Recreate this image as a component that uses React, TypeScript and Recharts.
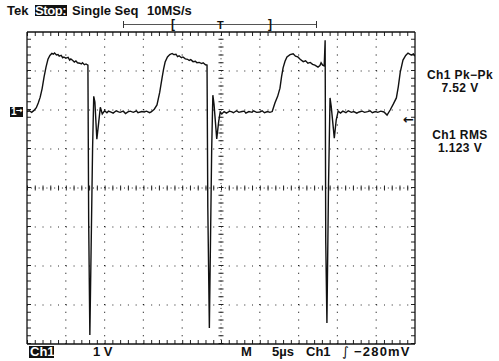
import React from "react";
import { LineChart, Line, XAxis, YAxis, ReferenceLine } from "recharts";

// Ch1 trace, time in µs (5 µs/div) and volts (1 V/div)
const pulse1: [number, number][] = [
  [0, -0.04], [0.3, -0.02], [0.6, -0.06], [0.9, -0.01], [1.2, 0.06], [1.45, 0.18],
  [1.7, 0.33], [1.95, 0.55], [2.2, 0.85], [2.45, 1.1], [2.7, 1.3], [2.95, 1.4],
  [3.2, 1.45], [3.4, 1.43], [3.55, 1.46], [3.8, 1.41], [4.0, 1.42], [4.15, 1.38],
  [4.4, 1.4], [4.6, 1.34], [4.75, 1.36], [5.0, 1.33], [5.3, 1.35], [5.5, 1.28],
  [5.65, 1.31], [5.9, 1.27], [6.1, 1.23], [6.3, 1.26], [6.5, 1.21], [6.8, 1.2],
  [7.0, 1.18], [7.15, 1.21], [7.4, 1.16], [7.6, 1.18], [7.85, 1.15],
];
const spike1: [number, number][] = [
  [7.95, -2.9], [8.1, -5.77], [8.45, -1.0], [8.6, 0.35], [8.75, 0.2], [9.0, -0.75],
  [9.25, -0.3], [9.45, 0.07], [9.7, -0.1],
];
const base1: [number, number][] = [
  [10.0, -0.02], [10.3, -0.07], [10.5, -0.03], [10.9, -0.06], [11.1, -0.08], [11.5, -0.02],
  [11.8, -0.05], [12.0, -0.06], [12.4, -0.03], [12.7, -0.09], [13.0, -0.05], [13.3, -0.03],
  [13.7, -0.06], [14.1, -0.02], [14.3, -0.07], [14.8, -0.04], [15.1, -0.05], [15.4, -0.03],
  [15.8, -0.07], [16.0, -0.05],
];
const pulse2: [number, number][] = [
  [16.4, 0.02], [16.75, 0.13], [17.1, 0.45], [17.4, 0.82], [17.6, 1.05], [17.8, 1.23],
  [18.1, 1.36], [18.4, 1.42], [18.7, 1.45], [18.9, 1.42], [19.2, 1.43], [19.4, 1.37],
  [19.6, 1.39], [19.9, 1.34], [20.1, 1.36], [20.4, 1.31], [20.7, 1.3], [20.9, 1.27],
  [21.1, 1.29], [21.4, 1.24], [21.7, 1.25], [21.9, 1.21], [22.2, 1.22], [22.5, 1.19],
  [22.7, 1.21], [23.0, 1.16], [23.2, 1.15],
];
const spike2: [number, number][] = [
  [23.3, -2.5], [23.5, -5.59], [23.8, -1.0], [23.95, 0.38], [24.1, 0.15], [24.45, -0.74],
  [24.7, -0.3], [24.9, -0.05], [25.1, -0.1],
];
const base2: [number, number][] = [
  [25.4, -0.04], [25.7, -0.08], [26.1, -0.03], [26.4, -0.05], [26.6, -0.07], [27.0, -0.02],
  [27.3, -0.06], [27.7, -0.04], [28.0, -0.03], [28.2, -0.08], [28.6, -0.04], [29.0, -0.06],
  [29.2, -0.02], [29.6, -0.06], [30.0, -0.05], [30.3, -0.02], [30.6, -0.07], [31.0, -0.04],
  [31.3, -0.06], [31.6, -0.04],
];
const pulse3: [number, number][] = [
  [31.95, 0.18], [32.3, 0.35], [32.6, 0.56], [32.8, 0.85], [33.0, 1.08], [33.25, 1.25],
  [33.5, 1.36], [33.9, 1.42], [34.3, 1.44], [34.6, 1.38], [34.9, 1.36], [35.2, 1.3],
  [35.6, 1.24], [35.9, 1.26], [36.2, 1.2], [36.5, 1.22], [36.8, 1.17], [37.1, 1.15],
  [37.5, 1.1], [37.75, 1.14], [37.9, 1.21], [38.1, 1.15], [38.3, 1.13],
];
const spike3: [number, number][] = [
  [38.42, 1.79], [38.5, -3.4], [38.65, -5.46], [38.85, -2.0], [39.05, 0.31], [39.2, 0.1],
  [39.6, -0.72], [39.85, -0.25], [40.1, -0.03],
];
const base3: [number, number][] = [
  [40.4, -0.08], [40.7, -0.03], [41.1, -0.07], [41.4, -0.02], [41.8, -0.06], [42.1, -0.04],
  [42.5, -0.08], [42.8, -0.05], [43.2, -0.03], [43.5, -0.06], [43.9, -0.04], [44.2, -0.02],
  [44.5, -0.07], [44.9, -0.04], [45.2, -0.06], [45.6, -0.03], [46.0, -0.05], [46.4, -0.13],
];
const pulse4: [number, number][] = [
  [46.8, 0.0], [47.2, 0.15], [47.6, 0.31], [47.85, 0.6], [48.1, 0.97], [48.45, 1.28],
  [48.8, 1.4], [49.1, 1.46], [49.5, 1.41], [49.8, 1.44], [50, 1.38],
];

const xGrid = [5, 10, 15, 20, 30, 35, 40, 45];
const yGrid = [-5, -4, -3, -1, 0, 1];

const readouts = [
  { label: "Ch1 Pk\u2212Pk", value: "7.52 V" },
  { label: "Ch1 RMS", value: "1.123 V" },
];

const trace = [
  ...pulse1, ...spike1, ...base1, ...pulse2, ...spike2, ...base2,
  ...pulse3, ...spike3, ...base3, ...pulse4,
].map(([t, v]) => ({ t, v }));

const FONT = "'Liberation Sans', Arial, sans-serif";
const INK = "#111";

const txt = (left: number, top: number, extra: React.CSSProperties = {}): React.CSSProperties => ({
  position: "absolute",
  left,
  top,
  fontFamily: FONT,
  fontWeight: 700,
  fontSize: 13,
  lineHeight: "15px",
  color: INK,
  whiteSpace: "nowrap",
  ...extra,
});

// one screen pixel in data units (38.8 px per 5 µs, 39 px per volt)
const PX_T = 5 / 38.8;
const PX_V = 1 / 39;

export default function App() {
  return (
    <div
      style={{
        position: "absolute",
        left: 0,
        top: 0,
        width: 499,
        height: 361,
        background: "#fff",
        overflow: "hidden",
      }}
    >
      <LineChart
        width={499}
        height={361}
        data={trace}
        margin={{ top: 32, right: 84, bottom: 17, left: 27 }}
      >
        <XAxis type="number" dataKey="t" domain={[0, 50]} allowDataOverflow hide />
        <YAxis type="number" domain={[-6, 2]} allowDataOverflow hide />

        {/* dotted graticule */}
        {xGrid.map((x) => (
          <ReferenceLine key={"gx" + x} x={x} stroke="#222" strokeWidth={1.2} strokeDasharray="1 6.8" />
        ))}
        {yGrid.map((y) => (
          <ReferenceLine key={"gy" + y} y={y} stroke="#222" strokeWidth={1.2} strokeDasharray="1 6.76" />
        ))}

        {/* centre cross with minor ticks */}
        <ReferenceLine x={25} stroke="#222" strokeWidth={1} strokeDasharray="1 2.9" />
        <ReferenceLine y={-2} stroke="#222" strokeWidth={1} strokeDasharray="1 2.88" />
        <ReferenceLine x={25} stroke="#222" strokeWidth={5} strokeDasharray="1 6.8" />
        <ReferenceLine y={-2} stroke="#222" strokeWidth={5} strokeDasharray="1 6.76" />

        {/* border ticks, pointing inward */}
        <ReferenceLine y={2 - 2 * PX_V} stroke="#222" strokeWidth={4} strokeDasharray="1 6.76" />
        <ReferenceLine y={-6 + 2 * PX_V} stroke="#222" strokeWidth={4} strokeDasharray="1 6.76" />
        <ReferenceLine x={2 * PX_T} stroke="#222" strokeWidth={4} strokeDasharray="1 6.8" />
        <ReferenceLine x={50 - 2 * PX_T} stroke="#222" strokeWidth={4} strokeDasharray="1 6.8" />

        {/* border */}
        <ReferenceLine x={0} stroke={INK} strokeWidth={1.3} />
        <ReferenceLine x={50} stroke={INK} strokeWidth={1.3} />
        <ReferenceLine y={2} stroke={INK} strokeWidth={1.3} />
        <ReferenceLine y={-6} stroke={INK} strokeWidth={1.3} />

        <Line
          type="linear"
          dataKey="v"
          stroke={INK}
          strokeWidth={1.4}
          dot={false}
          activeDot={false}
          isAnimationActive={false}
        />
      </LineChart>

      {/* header */}
      <div style={txt(7, 3)}>Tek</div>
      <div style={{ position: "absolute", left: 35, top: 5, width: 32, height: 11, background: INK }} />
      <div style={txt(35, 3, { color: "#fff", letterSpacing: -0.4 })}>Stop:</div>
      <div style={txt(72, 3)}>Single Seq</div>
      <div style={txt(147, 3)}>10MS/s</div>

      {/* trigger position bar */}
      <div style={{ position: "absolute", left: 123, top: 24, width: 193, height: 1, background: "#555" }} />
      <div style={{ position: "absolute", left: 123, top: 21, width: 1, height: 7, background: "#333" }} />
      <div style={{ position: "absolute", left: 316, top: 21, width: 1, height: 7, background: "#333" }} />
      <div style={txt(171, 17, { fontSize: 12 })}>[</div>
      <div style={txt(217, 18, { fontSize: 11 })}>T</div>
      <div style={txt(268, 17, { fontSize: 12 })}>]</div>

      {/* ground marker */}
      <div style={{ position: "absolute", left: 10, top: 107, width: 13, height: 10, background: INK }} />
      <div style={txt(11, 105, { color: "#fff", fontSize: 10, lineHeight: "14px" })}>1</div>
      <div
        style={txt(16, 104, {
          color: "#fff",
          fontFamily: "'DejaVu Sans', sans-serif",
          fontSize: 8,
          lineHeight: "14px",
        })}
      >
        →
      </div>

      {/* trigger level arrow */}
      <div style={txt(403, 112, { fontFamily: "'DejaVu Sans', sans-serif", fontSize: 13 })}>←</div>

      {/* measurements */}
      {readouts.map((r, i) => (
        <React.Fragment key={r.label}>
          <div
            style={txt(420, 68.5 + i * 60, {
              width: 80,
              textAlign: "center",
              fontSize: 12,
              lineHeight: "13px",
              letterSpacing: 0.4,
            })}
          >
            {r.label}
          </div>
          <div
            style={txt(420, 82 + i * 60, {
              width: 80,
              textAlign: "center",
              fontSize: 12,
              lineHeight: "13px",
              letterSpacing: 0.4,
            })}
          >
            {r.value}
          </div>
        </React.Fragment>
      ))}

      {/* footer */}
      <div style={{ position: "absolute", left: 29, top: 346, width: 25, height: 12, background: INK }} />
      <div style={txt(30, 344, { color: "#fff" })}>Ch1</div>
      <div style={txt(93, 344)}>1 V</div>
      <div style={txt(241, 344)}>M</div>
      <div style={txt(272, 344)}>5µs</div>
      <div style={txt(306, 344)}>Ch1</div>
      <div style={txt(342, 344, { fontFamily: "'DejaVu Sans', sans-serif", fontWeight: 400 })}>∫</div>
      <div style={txt(354, 344, { letterSpacing: 1.2 })}>−280mV</div>
    </div>
  );
}
